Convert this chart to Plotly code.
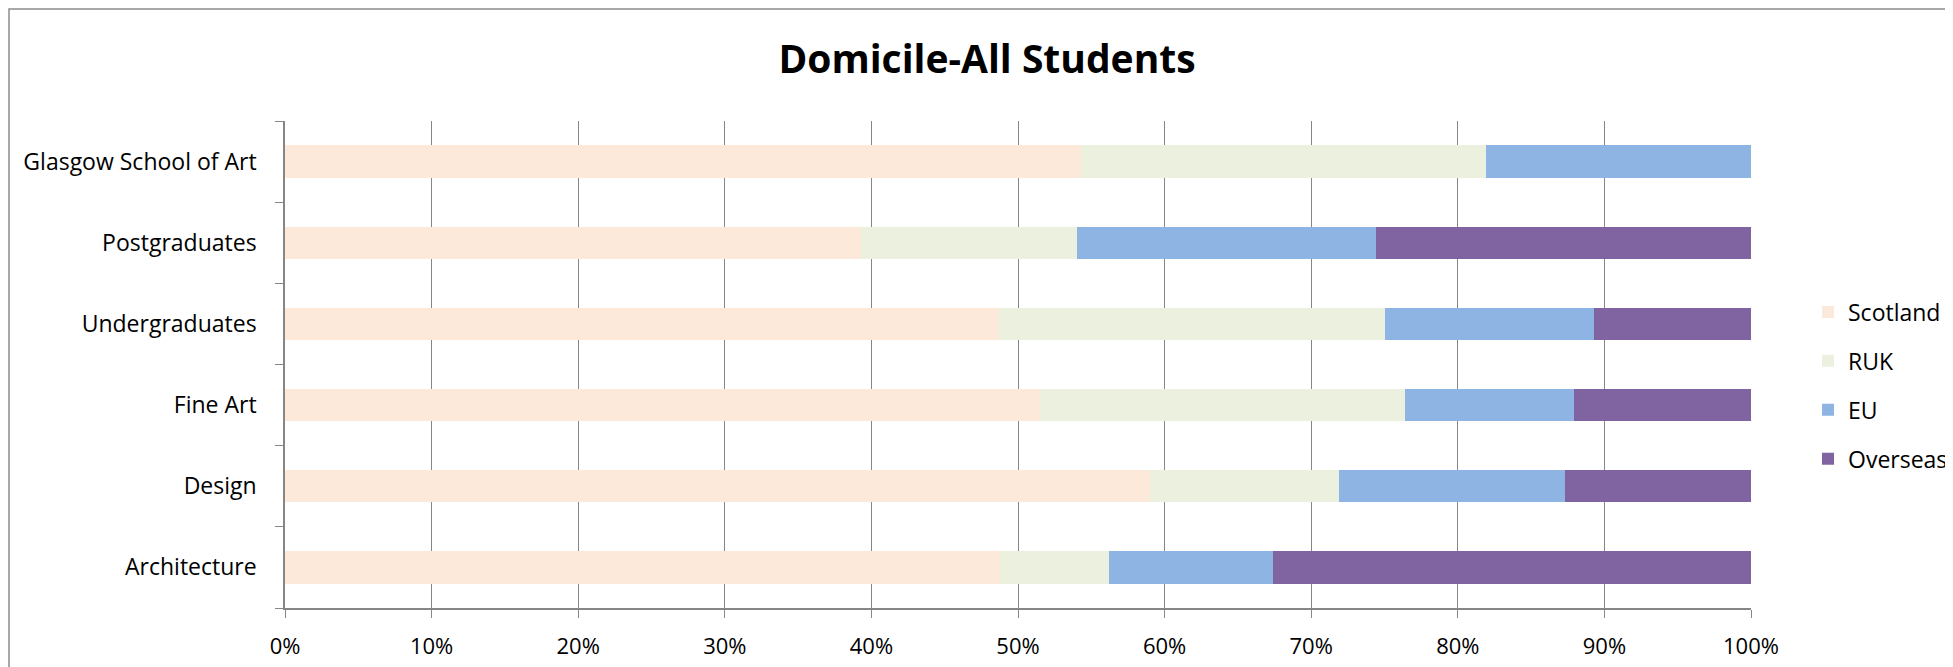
import plotly.graph_objects as go

categories = ['Architecture', 'Design', 'Fine Art', 'Undergraduates', 'Postgraduates', 'Glasgow School of Art']

scotland = [48.75, 59.0, 51.5, 48.7, 39.3, 54.3]
ruk = [7.45, 12.9, 24.9, 26.3, 14.7, 27.6]
eu = [11.2, 15.4, 11.5, 14.3, 20.4, 18.1]
overseas = [32.6, 12.7, 12.1, 10.7, 25.6, 0.0]

series = [
    ('Scotland', scotland, '#FDE9D9'),
    ('RUK', ruk, '#EBF1DE'),
    ('EU', eu, '#8DB4E2'),
    ('Overseas', overseas, '#8064A2'),
]

# page body has an 8px margin, so the figure is drawn 8px smaller
W, H = 1945, 659
ml, mr, mt, mb = 277, 202, 113, 59
FONT = 'Open Sans, Noto Sans, sans-serif'

fig = go.Figure()
for name, vals, col in series:
    fig.add_trace(go.Bar(
        y=categories, x=[v / 100 for v in vals], name=name, orientation='h',
        marker=dict(color=col, line=dict(width=0)),
        legendgroup=name,
    ))

# chart-area border (Excel style), expressed in paper coords
pw = W - ml - mr
ph = H - mt - mb
fig.add_shape(type='rect', xref='paper', yref='paper',
              x0=(1 - ml) / pw, x1=(W - 2 - ml) / pw,
              y0=-(mb + 10) / ph, y1=(H - mb - 1) / ph,
              line=dict(color='#8c8c8c', width=1.5), layer='below')

fig.update_layout(
    width=W, height=H,
    template='none',
    barmode='stack', bargap=0.6,
    paper_bgcolor='white', plot_bgcolor='white',
    margin=dict(l=ml, r=mr, t=mt, b=mb, autoexpand=False),
    font=dict(family=FONT, size=22, color='black'),
    title=dict(text='Domicile-All Students', x=979 / W, xanchor='center',
               y=1 - 51 / H, yanchor='middle',
               font=dict(family=FONT, size=39, color='black', weight='bold')),
    legend=dict(xref='container', yref='container',
                x=1800 / W, xanchor='left', y=1 - 282.5 / H, yanchor='top',
                traceorder='grouped', tracegroupgap=16,
                font=dict(family=FONT, size=23, color='black'),
                itemwidth=30, bgcolor='rgba(0,0,0,0)', borderwidth=0),
    xaxis=dict(range=[0, 1], dtick=0.1, tickformat='.0%',
               showgrid=True, gridcolor='#868686', gridwidth=1,
               showline=True, linecolor='#868686', linewidth=2,
               ticks='outside', ticklen=8, tickcolor='#868686',
               tickfont=dict(size=22),
               ticklabelstandoff=10, zeroline=False, fixedrange=True, automargin=False),
    yaxis=dict(showgrid=False, showline=True, linecolor='#868686', linewidth=1.5,
               ticks='outside', ticklen=8, tickcolor='#868686', tickson='boundaries',
               tickfont=dict(size=23),
               ticklabelstandoff=22, fixedrange=True, automargin=False),
)

fig.write_html('out.html')
